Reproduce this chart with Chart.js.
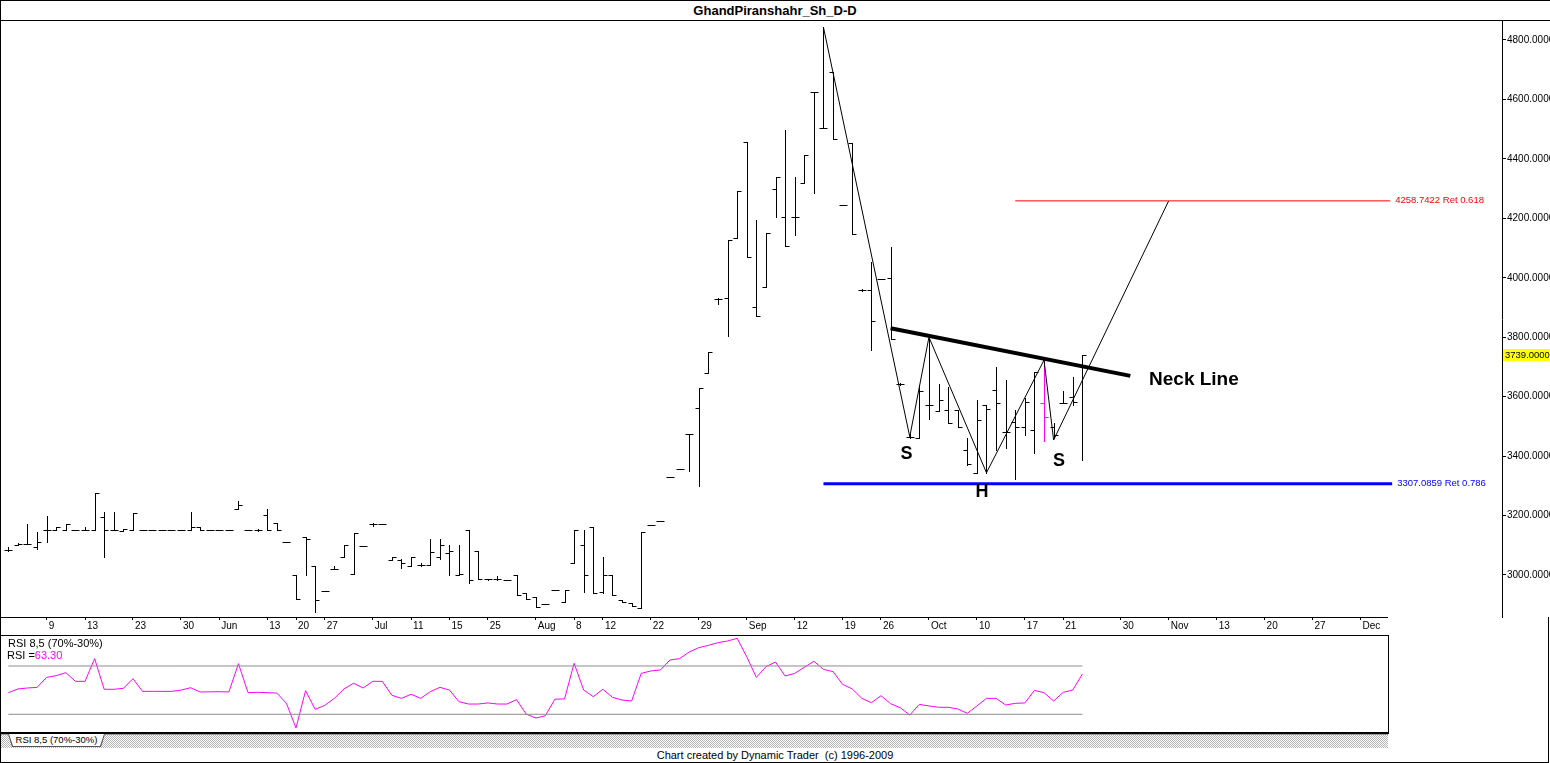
<!DOCTYPE html>
<html>
<head>
<meta charset="utf-8">
<title>GhandPiranshahr_Sh_D-D</title>
<script src="https://cdn.jsdelivr.net/npm/chart.js@4.4.1/dist/chart.umd.min.js"></script>
<style>
  body { margin: 0; background: #fff; font-family: "Liberation Sans", Arial, sans-serif; }
  #lienzo { position: relative; width: 1550px; height: 763px; overflow: hidden; background: #fff; }
  .linea { position: absolute; background: #000; }
  #titulo { position: absolute; left: 0; top: 0; width: 1550px; height: 20px; border-bottom: 1px solid #000;
            text-align: center; font-weight: bold; font-size: 13px; line-height: 21px; }
  #grafico { position: absolute; left: 0; top: 21px; }
  #cajaRSI { position: absolute; left: 0; top: 635px; width: 1389px; height: 99px; box-sizing: border-box;
             border-top: 1px solid #000; border-right: 1px solid #000; border-bottom: 2px solid #000; }
  #graficoRSI { position: absolute; left: 0; top: 636px; }
  .rotulo { position: absolute; font-size: 11px; line-height: 12px; white-space: nowrap; }
  #pestanas { position: absolute; left: 0; top: 734px; width: 1388px; height: 13px; border-top: 1px solid #999;
              background: repeating-conic-gradient(#b4b4b4 0 25%, #fff 0 50%) 0 0 / 2px 2px; }
  #pestana { position: absolute; left: 8px; top: 734px; width: 97px; height: 13px; background: #555;
             clip-path: polygon(0 0, 100% 0, calc(100% - 4px) 100%, 4px 100%); }
  #pestana div { position: absolute; left: 1px; top: 0; width: 95px; height: 12px; background: #fff;
                 clip-path: polygon(0 0, 100% 0, calc(100% - 4px) 100%, 4px 100%);
                 font-size: 9.5px; line-height: 12px; text-align: center; }
  #pie { position: absolute; left: 0; top: 748px; width: 1550px; text-align: center; font-size: 11px;
         line-height: 14px; white-space: pre; }
</style>
</head>
<body>
<div id="lienzo">
  <div id="titulo">GhandPiranshahr_Sh_D-D</div>
  <canvas id="grafico" width="1550" height="614"></canvas>
  <div class="linea" style="left:0;top:617px;width:1388px;height:1px"></div>
  <div id="cajaRSI"></div>
  <canvas id="graficoRSI" width="1388" height="96"></canvas>
  <div class="rotulo" style="left:8px;top:637px">RSI 8,5 (70%-30%)</div>
  <div class="rotulo" style="left:7px;top:649px">RSI =<span id="valorRSI" style="color:#ff00ff"></span></div>
  <div id="pestanas"></div>
  <div id="pestana"><div>RSI 8,5 (70%-30%)</div></div>
  <div id="pie">Chart created by Dynamic Trader  (c) 1996-2009</div>
  <!-- marco exterior -->
  <div class="linea" style="left:0;top:0;width:1550px;height:1px"></div>
  <div class="linea" style="left:0;top:0;width:1px;height:763px"></div>
  <div class="linea" style="left:0;top:762px;width:1549px;height:1px"></div>
  <div class="linea" style="left:1548px;top:617px;width:1px;height:146px"></div>
</div>
<script>
  // Datos de las barras diarias (apertura, maximo, minimo, cierre)
  const aperturas = [
    3084, 3101, 3104, 3095, 3151, 3151, 3151, 3151, 3151, 3153,
    3194, 3151, 3149, 3151, 3151, 3151, 3151, 3151, 3151, 3151,
    3160, 3151, 3151, 3151, 3221, 3151, 3151, 3202, 3174, 3111,
    3000, 3129, 3030, 2946, 3019, 3062, 3002, 3097, 3170, 3171,
    3050, 3050, 3030, 3033, 3033, 3059, 3073, 3000, 3151, 3082,
    2987, 2985, 2983, 3000, 2938, 2927, 2902, 2949, 2908, 3039,
    3101, 3160, 2944, 3000, 2916, 2905, 2888, 3168, 3182, 3330,
    3355, 3476, 3561, 3678, 3927, 3931, 4133, 4458, 3903, 3968,
    4298, 4206, 4206, 4318, 4626, 4503, 4693, 4245, 4452, 3959,
    3960, 3995, 3998, 3642, 3465, 3460, 3572, 3552, 3555, 3555,
    3420, 3344, 3572, 3622, 3482, 3516, 3499, 3488, 3577, 3499,
    3577, 3600, 3703
  ];
  const maximos = [
    3095, 3106, 3171, 3143, 3198, 3162, 3171, 3151, 3160, 3275,
    3213, 3211, 3155, 3207, 3151, 3151, 3151, 3151, 3151, 3211,
    3160, 3151, 3151, 3151, 3250, 3151, 3155, 3221, 3174, 3111,
    3000, 3129, 3030, 2946, 3030, 3101, 3142, 3097, 3174, 3171,
    3059, 3053, 3059, 3039, 3121, 3120, 3101, 3101, 3151, 3082,
    2987, 2998, 2983, 3000, 2938, 2927, 2902, 2949, 2949, 3153,
    3151, 3160, 3062, 3000, 2916, 2905, 3143, 3168, 3182, 3330,
    3355, 3476, 3628, 3749, 3931, 4127, 4292, 4458, 4194, 4149,
    4338, 4497, 4340, 4413, 4626, 4843, 4693, 4245, 4452, 3962,
    4054, 3995, 4104, 3645, 3474, 3639, 3799, 3643, 3634, 3555,
    3460, 3589, 3572, 3701, 3656, 3555, 3594, 3684, 3723, 3512,
    3620, 3667, 3740
  ];
  const minimos = [
    3082, 3101, 3103, 3088, 3112, 3151, 3151, 3151, 3151, 3153,
    3061, 3151, 3149, 3151, 3151, 3151, 3151, 3151, 3151, 3151,
    3151, 3151, 3151, 3151, 3221, 3151, 3149, 3151, 3151, 3111,
    2919, 3000, 2876, 2946, 3019, 3062, 3002, 3097, 3165, 3171,
    3050, 3022, 3030, 3030, 3033, 3054, 3000, 3000, 2972, 2985,
    2983, 2983, 2983, 2933, 2919, 2893, 2902, 2949, 2908, 3039,
    2944, 2938, 2938, 2933, 2908, 2897, 2888, 3168, 3182, 3330,
    3355, 3351, 3299, 3678, 3912, 3804, 4133, 4069, 3871, 3968,
    4206, 4108, 4144, 4318, 4284, 4503, 4467, 4245, 4146, 3956,
    3757, 3995, 3793, 3640, 3460, 3460, 3524, 3552, 3512, 3499,
    3370, 3344, 3344, 3420, 3426, 3322, 3471, 3411, 3452, 3460,
    3577, 3572, 3387
  ];
  const cierres = [
    3084, 3104, 3104, 3111, 3151, 3160, 3171, 3151, 3151, 3275,
    3151, 3151, 3154, 3207, 3151, 3151, 3151, 3151, 3151, 3162,
    3151, 3151, 3151, 3151, 3235, 3151, 3153, 3151, 3151, 3111,
    2919, 3120, 2916, 2946, 3019, 3101, 3142, 3097, 3170, 3171,
    3059, 3039, 3059, 3033, 3078, 3101, 3080, 3003, 2983, 2985,
    2985, 2985, 2983, 2933, 2919, 2893, 2902, 2949, 2949, 3153,
    3000, 2938, 3000, 2933, 2908, 2897, 3143, 3168, 3182, 3330,
    3355, 3476, 3628, 3749, 3927, 4127, 4292, 4069, 3871, 4149,
    4338, 4108, 4206, 4413, 4626, 4503, 4467, 4245, 4146, 3959,
    3856, 3995, 3793, 3642, 3465, 3620, 3572, 3588, 3512, 3499,
    3375, 3520, 3560, 3577, 3480, 3499, 3583, 3684, 3530, 3470,
    3580, 3583, 3739
  ];
  // barra marcada por el cursor (magenta)
  const barraMarcada = 108;

  // RSI 8,5 de cada barra
  const valoresRSI = [
    47.9, 51.0, 51.8, 52.3, 60.6, 62.0, 64.5, 57.3, 57.3, 76.1,
    50.7, 50.7, 51.5, 59.5, 49.0, 49.0, 49.0, 49.0, 50.0, 52.0,
    48.5, 48.6, 48.7, 48.5, 71.9, 47.9, 48.2, 47.9, 47.6, 39.1,
    18.7, 49.6, 34.1, 37.4, 43.2, 51.0, 55.7, 51.8, 57.3, 57.3,
    45.7, 43.2, 46.6, 43.2, 48.7, 52.3, 50.1, 40.4, 38.5, 38.5,
    39.4, 38.5, 38.5, 42.1, 30.2, 26.9, 28.8, 42.5, 42.7, 72.2,
    50.1, 44.6, 50.7, 44.1, 41.8, 41.0, 63.9, 65.9, 66.7, 75.0,
    76.1, 81.6, 85.2, 87.1, 89.3, 90.7, 92.9, 77.7, 60.6, 69.4,
    73.3, 61.7, 63.9, 68.9, 73.9, 67.2, 65.3, 54.8, 51.0, 43.2,
    39.6, 45.4, 38.8, 35.5, 29.4, 38.2, 36.9, 35.8, 35.8, 34.4,
    30.8, 36.9, 43.2, 43.2, 37.7, 39.1, 39.4, 49.8, 47.9, 41.0,
    48.2, 50.1, 63.3
  ];
  const nivelesRSI = [70, 30];

  // Eje de fechas: posicion (numero de barra) y etiqueta
  const indicesFechas = [4, 8, 13, 18, 22, 27, 30, 33, 38, 42, 46, 50, 55, 59, 62, 67, 72, 77, 82, 87, 91, 96, 101, 106, 110, 116, 121, 126, 131, 136, 141];
  const etiquetasFechas = ['9', '13', '23', '30', 'Jun', '13', '20', '27', 'Jul', '11', '15', '25', 'Aug', '8', '12', '22', '29', 'Sep', '12', '19', '26', 'Oct', '10', '17', '21', '30', 'Nov', '13', '20', '27', 'Dec'];
  const ticksPrecio = [3000, 3200, 3400, 3600, 3800, 4000, 4200, 4400, 4600, 4800];

  // Dibujo del patron hombro-cabeza-hombro
  const zigzagBarras = [85, 94, 96, 102, 108, 109, 121];
  const zigzagPrecios = [4843, 3465, 3800, 3344, 3723, 3454, 4258.7422];
  const cuelloBarras = [92, 117];
  const cuelloPrecios = [3830, 3670];
  const retroRoja = { nivel: 4258.7422, ratio: '0.618', desde: 105, hasta: 144.1 };
  const retroAzul = { nivel: 3307.0859, ratio: '0.786', desde: 85, hasta: 144.3 };
  const marcasPatron = [
    { texto: 'S', barra: 93.66, precio: 3408 },
    { texto: 'H', barra: 101.53, precio: 3280 },
    { texto: 'S', barra: 109.56, precio: 3383 }
  ];
  const textoCuello = { texto: 'Neck Line', barra: 118.95, precio: 3656 };

  const fuente = '"Liberation Sans", Arial, sans-serif';
  const xMin = -0.8655;

  // Plugin para las barras OHLC usando las escalas de Chart.js
  const barrasOHLC = {
    id: 'barrasOHLC',
    beforeDatasetsDraw(chart) {
      const { ctx, scales: { x, y } } = chart;
      ctx.save();
      ctx.lineWidth = 1;
      for (let i = 0; i < cierres.length; i++) {
        const px = Math.round(x.getPixelForValue(i)) + 0.5;
        const alto = Math.round(y.getPixelForValue(maximos[i]));
        const bajo = Math.round(y.getPixelForValue(minimos[i]));
        const ap = Math.round(y.getPixelForValue(aperturas[i])) + 0.5;
        const ci = Math.round(y.getPixelForValue(cierres[i])) + 0.5;
        ctx.strokeStyle = i === barraMarcada ? '#ff00ff' : '#000';
        ctx.beginPath();
        if (bajo > alto) {
          ctx.moveTo(px, alto);
          ctx.lineTo(px, bajo + 1);
        }
        ctx.moveTo(px - 4, ap);
        ctx.lineTo(px, ap);
        ctx.moveTo(px - 0.5, ci);
        ctx.lineTo(px + 4, ci);
        ctx.stroke();
      }
      ctx.restore();
    }
  };

  // Plugin para los textos sobre el grafico
  const rotulos = {
    id: 'rotulos',
    afterDraw(chart) {
      const { ctx, scales: { x, y } } = chart;
      ctx.save();
      ctx.textBaseline = 'middle';
      ctx.textAlign = 'left';
      ctx.font = '9.5px ' + fuente;
      [[retroRoja, '#ff0000'], [retroAzul, '#0000ff']].forEach(([r, color]) => {
        ctx.fillStyle = color;
        ctx.fillText(r.nivel.toFixed(4) + ' Ret ' + r.ratio, x.getPixelForValue(r.hasta) + 5, y.getPixelForValue(r.nivel));
      });

      // ultimo cierre en amarillo sobre el eje
      const ultimo = cierres[cierres.length - 1];
      const yc = Math.round(y.getPixelForValue(ultimo));
      ctx.fillStyle = '#ffff00';
      ctx.fillRect(x.right + 1, yc - 6, 46, 12);
      ctx.fillStyle = '#000';
      ctx.fillText(ultimo.toFixed(4), x.right + 3, yc + 0.5);

      ctx.font = 'bold 18px ' + fuente;
      ctx.textAlign = 'center';
      marcasPatron.forEach(m => {
        ctx.fillText(m.texto, x.getPixelForValue(m.barra), y.getPixelForValue(m.precio));
      });
      ctx.font = 'bold 19px ' + fuente;
      ctx.textAlign = 'left';
      ctx.fillText(textoCuello.texto, x.getPixelForValue(textoCuello.barra), y.getPixelForValue(textoCuello.precio));
      ctx.restore();
    }
  };

  const puntos = (xs, ys) => xs.map((v, k) => ({ x: v, y: ys[k] }));
  const lineaSimple = (datos, color, ancho) => ({
    data: datos, showLine: true, borderColor: color, borderWidth: ancho,
    pointRadius: 0, fill: false, tension: 0
  });

  // Grafico principal de precios
  const ctxPrecio = document.getElementById('grafico').getContext('2d');
  new Chart(ctxPrecio, {
    type: 'scatter',
    data: {
      datasets: [
        lineaSimple(puntos([retroRoja.desde, retroRoja.hasta], [retroRoja.nivel, retroRoja.nivel]), '#ff0000', 1),
        lineaSimple(puntos([retroAzul.desde, retroAzul.hasta], [retroAzul.nivel, retroAzul.nivel]), '#0000ff', 3),
        lineaSimple(puntos(zigzagBarras, zigzagPrecios), '#000', 1),
        lineaSimple(puntos(cuelloBarras, cuelloPrecios), '#000', 4)
      ]
    },
    options: {
      responsive: false,
      animation: false,
      layout: { padding: 0 },
      plugins: { legend: { display: false }, tooltip: { enabled: false } },
      scales: {
        x: {
          type: 'linear', position: 'bottom',
          min: xMin, max: xMin + 1502 / 9.59,
          border: { display: false },
          grid: { drawOnChartArea: false, drawTicks: true, tickLength: 3, color: '#000' },
          ticks: {
            autoSkip: false, maxRotation: 0, minRotation: 0, align: 'start', labelOffset: 2, padding: 0,
            color: '#000', font: { size: 10, family: fuente },
            callback: (v, i) => etiquetasFechas[i]
          },
          afterBuildTicks: s => { s.ticks = indicesFechas.map(v => ({ value: v })); },
          afterFit: s => { s.height = 18; s.paddingLeft = 0; s.paddingRight = 0; }
        },
        y: {
          type: 'linear', position: 'right',
          min: 2858.6, max: 4863.9,
          border: { display: true, color: '#000', width: 1 },
          grid: { drawOnChartArea: false, drawTicks: true, tickLength: 4, color: '#000' },
          ticks: {
            padding: 1, color: '#000', font: { size: 10, family: fuente },
            callback: v => Number(v).toFixed(4)
          },
          afterBuildTicks: s => { s.ticks = ticksPrecio.map(v => ({ value: v })); },
          afterFit: s => { s.width = 48; s.paddingTop = 0; s.paddingBottom = 0; }
        }
      }
    },
    plugins: [barrasOHLC, rotulos]
  });

  // Panel del RSI
  document.getElementById('valorRSI').textContent = valoresRSI[valoresRSI.length - 1].toFixed(2);
  const ultimaBarra = valoresRSI.length - 1;
  const ctxRSI = document.getElementById('graficoRSI').getContext('2d');
  new Chart(ctxRSI, {
    type: 'scatter',
    data: {
      datasets: [
        ...nivelesRSI.map(n => lineaSimple(puntos([0, ultimaBarra], [n, n]), '#8c8c8c', 1)),
        lineaSimple(valoresRSI.map((v, i) => ({ x: i, y: v })), '#ff00ff', 1)
      ]
    },
    options: {
      responsive: false,
      animation: false,
      layout: { padding: 0 },
      plugins: { legend: { display: false }, tooltip: { enabled: false } },
      scales: {
        x: { type: 'linear', display: false, min: xMin, max: xMin + 1388 / 9.59 },
        y: { type: 'linear', display: false, min: 15.34, max: 94.84 }
      }
    }
  });
</script>
</body>
</html>
